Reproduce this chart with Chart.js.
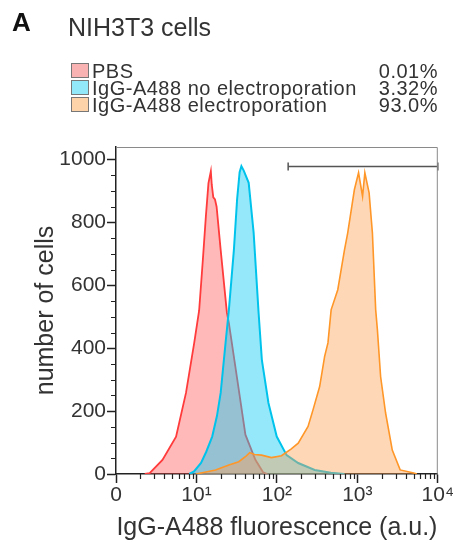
<!DOCTYPE html>
<html>
<head>
<meta charset="utf-8">
<script src="https://cdn.jsdelivr.net/npm/chart.js@4.4.1/dist/chart.umd.min.js"></script>
<style>
  body { margin: 0; background: #fff; font-family: "Liberation Sans", Arial, Helvetica, sans-serif; color: #333; }
  #wrap { position: relative; width: 454px; height: 543px; overflow: hidden; }
  #chart { position: absolute; left: 0; top: 0; }
  .panel { position: absolute; left: 12px; top: 9px; font-size: 26px; line-height: 1; font-weight: bold; color: #111; }
  .title { position: absolute; left: 68px; top: 15px; font-size: 25px; line-height: 1; }
  .row { position: absolute; left: 71px; width: 367px; height: 20px; font-size: 20px; line-height: 1; letter-spacing: 0.5px; }
  .row .box { position: absolute; left: 0; top: 2px; width: 16px; height: 13px; border: 1px solid #777; }
  .row .name { position: absolute; left: 21px; top: 0; white-space: nowrap; }
  .row .pct { position: absolute; right: 0; top: 0; }
</style>
</head>
<body>
<div id="wrap">
  <canvas id="chart" width="454" height="543"></canvas>
  <div class="panel">A</div>
  <div class="title">NIH3T3 cells</div>
  <div id="legend"></div>
</div>
<script>
// ===== DATA =====
const seriesNames = ["PBS", "IgG-A488 no electroporation", "IgG-A488 electroporation"];
const seriesPercents = ["0.01%", "3.32%", "93.0%"];

// PBS (red)
const pbsX = [2.28, 2.62, 3.78, 5.58, 7.41, 9.38, 10.8, 12.0, 13.1, 14.1, 15.1, 15.5, 16.2, 17.0, 17.8, 20.0, 23.9, 25.3, 31.8, 40.6, 54.0, 67.6, 75.9];
const pbsY = [0, 3, 45, 119, 258, 417, 520, 680, 820, 925, 963, 920, 880, 873, 850, 713, 513, 480, 309, 125, 45, 5, 0];

// IgG-A488 no electroporation (cyan)
const noEpX = [8.15, 9.33, 11.4, 13.2, 15.7, 18.0, 20.0, 23.0, 25.3, 29.2, 32.0, 34.4, 36.2, 38.7, 44.6, 51.4, 59.2, 65.0, 78.5, 99.5, 132, 184, 295, 468, 692];
const noEpY = [0, 8, 35, 70, 119, 185, 258, 417, 522, 713, 873, 960, 979, 965, 926, 767, 513, 363, 226, 119, 60, 35, 13, 4, 0];

// IgG-A488 electroporation (orange)
const epX = [9.84, 11.8, 17.3, 25.3, 33.6, 40.6, 45.9, 52.8, 64.4, 85.5, 114, 151, 184, 244, 281, 340, 392, 431, 472, 571, 692, 759, 918, 1035, 1161, 1239, 1400, 1538, 1690, 1774, 1945, 2244, 2716, 3404, 5023, 5495];
const epY = [0, 4, 13, 29, 39, 55, 68, 62, 60, 52, 58, 80, 98, 151, 204, 278, 374, 417, 522, 586, 713, 767, 904, 958, 883, 958, 894, 767, 522, 459, 310, 194, 76, 13, 3, 0];

// gate bar
const gateX = [138, 10000];
const gateY = 978;

// axes
const xTicks = [1, 10, 100, 1000, 10000];
const xTickLabels = ["0", "10\u00b9", "10\u00b2", "10\u00b3", "10\u2074"];
const yTicks = [0, 200, 400, 600, 800, 1000];
const yMax = 1040;

// ===== LEGEND =====
const swatches = ["#f9b3b3", "#92e7f8", "#fdd3aa"];
const legendTops = [61, 78, 95];
let legend = document.getElementById("legend");
seriesNames.forEach((name, i) => {
    legend.innerHTML += `
    <div class="row" style="top:${legendTops[i]}px">
        <span class="box" style="background:${swatches[i]}"></span>
        <span class="name">${name}</span>
        <span class="pct">${seriesPercents[i]}</span>
    </div>`;
});

// ===== HELPERS =====
function pts(xs, ys){
    return xs.map((x, i) => ({x: x, y: ys[i]}));
}

// frame + minor ticks
const extras = {
    id: "extras",
    afterDraw(chart){
        const ctx = chart.ctx;
        const a = chart.chartArea;
        const xs = chart.scales.x;
        const ys = chart.scales.y;
        ctx.save();
        // light frame top/right
        ctx.strokeStyle = "#8a8a8a";
        ctx.lineWidth = 1;
        ctx.beginPath();
        ctx.moveTo(a.left, a.top + 0.5);
        ctx.lineTo(a.right - 0.5, a.top + 0.5);
        ctx.lineTo(a.right - 0.5, a.bottom);
        ctx.stroke();
        // minor ticks
        ctx.strokeStyle = "#222";
        ctx.lineWidth = 1.2;
        ctx.beginPath();
        for(let d = 1; d < 10000; d *= 10){
            for(let k = 2; k <= 9; k++){
                let px = Math.round(xs.getPixelForValue(d * k)) + 0.5;
                ctx.moveTo(px, a.bottom);
                ctx.lineTo(px, a.bottom + 5);
            }
        }
        for(let v = 50; v <= 1000; v += 50){
            if(v % 200 === 0) continue;
            let py = Math.round(ys.getPixelForValue(v)) + 0.5;
            ctx.moveTo(a.left - 5, py);
            ctx.lineTo(a.left, py);
        }
        ctx.stroke();
        ctx.restore();
    }
};

// ===== CHART =====
const tickFont = {family: "'Liberation Sans', Arial, sans-serif", size: 21};
const titleFont = {family: "'Liberation Sans', Arial, sans-serif", size: 25};

new Chart(document.getElementById("chart"), {
    type: "line",
    data: {
        datasets: [
            {
                label: seriesNames[0],
                data: pts(pbsX, pbsY),
                borderColor: "#ff3b3b",
                backgroundColor: "rgba(255, 70, 70, 0.38)",
                borderWidth: 1.8,
                fill: "origin",
                pointRadius: 0,
                tension: 0,
                order: 3
            },
            {
                label: seriesNames[1],
                data: pts(noEpX, noEpY),
                borderColor: "#00c3ec",
                backgroundColor: "rgba(20, 205, 245, 0.45)",
                borderWidth: 2,
                fill: "origin",
                pointRadius: 0,
                tension: 0,
                order: 2
            },
            {
                label: seriesNames[2],
                data: pts(epX, epY),
                borderColor: "#ff9628",
                backgroundColor: "rgba(253, 160, 80, 0.42)",
                borderWidth: 1.6,
                fill: "origin",
                pointRadius: 0,
                tension: 0,
                order: 1
            },
            {
                label: "gate",
                data: gateX.map(x => ({x: x, y: gateY})),
                borderColor: "#555",
                borderWidth: 1.5,
                fill: false,
                pointStyle: "line",
                rotation: 90,
                pointRadius: 4,
                pointBorderWidth: 1.5,
                pointBorderColor: "#555",
                clip: false,
                order: 0
            }
        ]
    },
    options: {
        responsive: false,
        animation: false,
        layout: { padding: {top: 147, right: 13, left: 0, bottom: 0} },
        plugins: {
            legend: { display: false },
            tooltip: { enabled: false }
        },
        scales: {
            x: {
                type: "logarithmic",
                min: 1,
                max: 10000,
                afterBuildTicks: s => { s.ticks = xTicks.map(v => ({value: v})); },
                afterFit: s => { s.height = 543 - 474; },
                ticks: {
                    autoSkip: false,
                    maxRotation: 0,
                    color: "#333",
                    font: tickFont,
                    padding: 0,
                    callback: (v, i) => xTickLabels[i]
                },
                grid: { drawOnChartArea: false, drawTicks: true, tickLength: 9, tickColor: "#222", tickWidth: 1.5 },
                border: { display: true, color: "#222", width: 1.5 },
                title: {
                    display: true,
                    text: "IgG-A488 fluorescence (a.u.)",
                    color: "#333",
                    font: titleFont,
                    padding: {top: 0, bottom: 0}
                }
            },
            y: {
                min: 0,
                max: yMax,
                afterBuildTicks: s => { s.ticks = yTicks.map(v => ({value: v})); },
                afterFit: s => { s.width = 116; },
                ticks: {
                    color: "#333",
                    font: tickFont,
                    padding: 1,
                    callback: v => String(v)
                },
                grid: { drawOnChartArea: false, drawTicks: true, tickLength: 9, tickColor: "#222", tickWidth: 1.5 },
                border: { display: true, color: "#222", width: 1.5 },
                title: {
                    display: true,
                    text: "number of cells",
                    color: "#333",
                    font: titleFont,
                    padding: {top: 31, bottom: 0}
                }
            }
        }
    },
    plugins: [extras]
});
</script>
</body>
</html>
